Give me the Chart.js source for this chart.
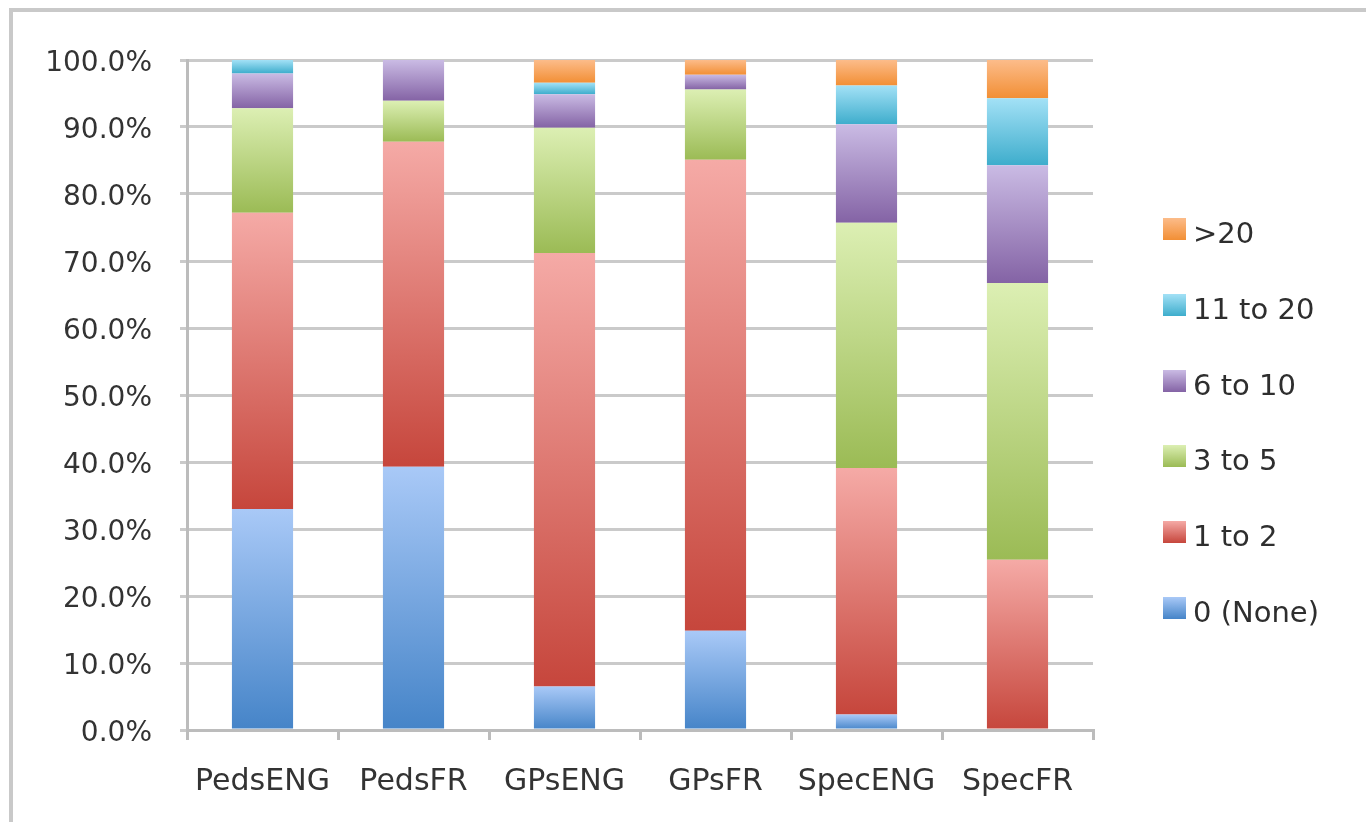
<!DOCTYPE html>
<html>
<head>
<meta charset="utf-8">
<script src="https://cdn.jsdelivr.net/npm/chart.js@4/dist/chart.umd.min.js"></script>
<style>
  body { margin: 0; background: #fff; font-family: 'DejaVu Sans', sans-serif; }
  #frame { position: absolute; left: 9px; top: 8px; width: 1380px; height: 810px;
           border-left: 4px solid #c9c9c9; border-top: 4px solid #c9c9c9; border-bottom: 1px solid #ececec; }
  #chart { position: absolute; left: 0; top: 0; }
  #legend { position: absolute; left: 1163px; top: 218px; }
  .item { position: absolute; left: 0; white-space: nowrap; }
  .box { position: absolute; left: 0; top: 0; width: 23px; height: 22px; }
  .lbl { position: absolute; left: 30px; top: 0; font-size: 29px; line-height: 30px; color: #2e2e2e; }
</style>
</head>
<body>
<div id="frame"></div>
<canvas id="chart" width="1366" height="822"></canvas>
<div id="legend"></div>
<script>
const categories = ['PedsENG', 'PedsFR', 'GPsENG', 'GPsFR', 'SpecENG', 'SpecFR'];
const seriesLabels = ['0 (None)', '1 to 2', '3 to 5', '6 to 10', '11 to 20', '>20'];

const none = [33.0, 39.3, 6.5, 14.8, 2.3, 0];
const oneToTwo = [44.2, 48.5, 64.7, 70.3, 36.8, 25.4];
const threeToFive = [15.6, 6.1, 18.7, 10.5, 36.6, 41.3];
const sixToTen = [5.2, 6.1, 5.0, 2.2, 14.7, 17.6];
const elevenToTwenty = [2.0, 0, 1.7, 0, 5.8, 10.0];
const overTwenty = [0, 0, 3.4, 2.2, 3.8, 5.7];

const yTicks = [0, 10, 20, 30, 40, 50, 60, 70, 80, 90, 100];

// top / bottom colours of each series gradient
const colorsTop = ['#a9c9f7', '#f5aaa6', '#dcefb3', '#cabbe4', '#a3e1f6', '#fcbc8a'];
const colorsBottom = ['#4584c8', '#c6463c', '#9bbb55', '#8463a5', '#3eadcc', '#f28f35'];

const seriesValues = [none, oneToTwo, threeToFive, sixToTen, elevenToTwenty, overTwenty];

function gradientFor(d) {
    return (c) => {
        const chart = c.chart;
        const y = chart.scales.y;
        if (!chart.chartArea || !y || c.type !== 'data') return colorsBottom[d];
        const i = c.dataIndex;
        let start = 0;
        for (let k = 0; k < d; k++) start += seriesValues[k][i];
        const end = start + seriesValues[d][i];
        const y0 = y.getPixelForValue(start);
        const y1 = y.getPixelForValue(end);
        if (!isFinite(y0) || !isFinite(y1) || y0 === y1) return colorsBottom[d];
        const g = chart.ctx.createLinearGradient(0, y1, 0, y0);
        g.addColorStop(0, colorsTop[d]);
        g.addColorStop(1, colorsBottom[d]);
        return g;
    };
}

const datasets = seriesValues.map((vals, d) => ({
    label: seriesLabels[d],
    data: vals,
    backgroundColor: gradientFor(d),
    borderWidth: 0,
    barPercentage: 0.405,
    categoryPercentage: 1
}));

const tickFont = { family: 'DejaVu Sans', size: 28 };
const gridGray = '#cacaca';
const axisGray = '#bcbcbc';

new Chart(document.getElementById('chart'), {
    type: 'bar',
    data: { labels: categories, datasets: datasets },
    options: {
        responsive: false,
        animation: false,
        layout: { padding: { left: 0, top: 60, right: 273, bottom: 0 } },
        plugins: { legend: { display: false }, tooltip: { enabled: false } },
        scales: {
            x: {
                stacked: true,
                grid: { display: true, drawOnChartArea: false, drawTicks: true, tickLength: 10, color: axisGray, lineWidth: 3 },
                border: { display: true, color: axisGray, width: 3 },
                ticks: { color: '#333', font: { family: 'DejaVu Sans', size: 30 }, padding: 24 },
                afterFit: (s) => { s.height = 92; }
            },
            y: {
                stacked: true,
                min: 0,
                max: 100,
                afterBuildTicks: (s) => { s.ticks = yTicks.map(v => ({ value: v })); },
                grid: { color: gridGray, lineWidth: 3, tickLength: 7, drawTicks: true },
                border: { display: true, color: axisGray, width: 3 },
                ticks: { color: '#333', font: tickFont, padding: 28, labelOffset: 4, callback: (v) => v.toFixed(1) + '%' },
                afterFit: (s) => { s.width = 187; }
            }
        }
    }
});

// legend, top item is the last series
const legend = document.getElementById('legend');
const rowStep = 75.8;
seriesLabels.slice().reverse().forEach((label, r) => {
    const d = seriesLabels.length - 1 - r;
    const item = document.createElement('div');
    item.className = 'item';
    item.style.top = (r * rowStep) + 'px';
    const box = document.createElement('div');
    box.className = 'box';
    box.style.background = `linear-gradient(${colorsTop[d]}, ${colorsBottom[d]})`;
    const text = document.createElement('div');
    text.className = 'lbl';
    text.textContent = label;
    item.appendChild(box);
    item.appendChild(text);
    legend.appendChild(item);
});
</script>
</body>
</html>
